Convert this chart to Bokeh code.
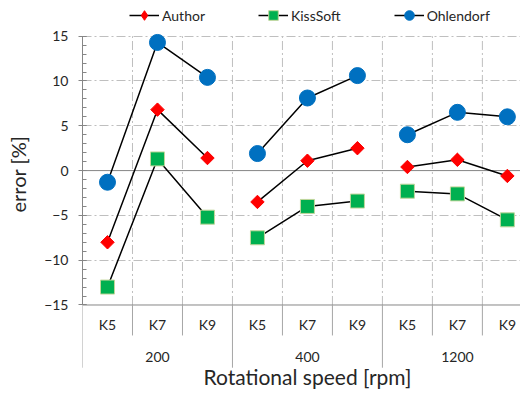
import math
from bokeh.plotting import figure
from bokeh.models import Range1d, FixedTicker, Span, Title, Legend, LegendItem
from bokeh.core.properties import value
from bokeh.embed import file_html
from bokeh.resources import INLINE

# ---- data ----
speeds = ["200", "400", "1200"]
k_labels = ["K5", "K7", "K9"]
author = [-8.0, 6.8, 1.4, -3.5, 1.1, 2.5, 0.4, 1.2, -0.6]
kisssoft = [-13.0, 1.3, -5.2, -7.5, -4.0, -3.4, -2.3, -2.6, -5.5]
ohlendorf = [-1.3, 14.3, 10.4, 1.9, 8.1, 10.6, 4.0, 6.5, 6.0]
y_ticks = [-15, -10, -5, 0, 5, 10, 15]
x_title = "Rotational speed [rpm]"
y_title = "error [%]"

FONT = "Lato"
TXT = "#262626"
AXC = "#868686"
GRIDC = "#BFBFBF"

n_k = len(k_labels)
n_g = len(speeds)
n = n_g * n_k
x_pos = list(range(n))
cat_labels = [k for s in speeds for k in k_labels]
group_centers = [g * n_k + (n_k - 1) / 2 for g in range(n_g)]
Y_MIN, Y_MAX = y_ticks[0], y_ticks[-1]

# layout constants (data units below the value axis, used for the category table)
K_ROW = -17.2
G_ROW = -20.78
T_ROW = -22.95
SHORT_SEP = -18.4
LONG_SEP = -22.0

p = figure(width=520, height=389, output_backend="svg", toolbar_location=None,
           x_range=Range1d(-0.5, -0.5 + 439 / 50.1), y_range=Range1d(-24.43, 18.98),
           x_axis_type=None, min_border_left=81, min_border_right=0,
           min_border_top=0, min_border_bottom=0)
p.outline_line_color = None
p.background_fill_color = "white"

# horizontal grid
p.ygrid.ticker = FixedTicker(ticks=[t for t in y_ticks if t not in (0, Y_MIN)])
p.ygrid.grid_line_color = GRIDC
p.ygrid.grid_line_dash = "9 3 2 3"
p.ygrid.grid_line_width = 1

p.add_layout(Span(location=0, dimension="width", line_color=AXC, line_width=1, level="underlay"))
p.add_layout(Span(location=Y_MIN, dimension="width", line_color=AXC, line_width=1, level="underlay"))

# vertical grid at category boundaries
bounds = [i + 0.5 for i in range(n)]
p.segment(x0=bounds, y0=[Y_MIN] * n, x1=bounds, y1=[Y_MAX] * n,
          line_color=GRIDC, line_dash="9 3 2 3", line_width=1, level="underlay")

# category table separators
group_b = [-0.5] + [g * n_k - 0.5 for g in range(1, n_g)]
short_b = [b for b in bounds if (b + 0.5) % n_k != 0]
p.segment(x0=short_b, y0=[Y_MIN] * len(short_b), x1=short_b, y1=[SHORT_SEP] * len(short_b),
          line_color="#A6A6A6", line_width=1)
p.segment(x0=group_b, y0=[Y_MIN] * len(group_b), x1=group_b, y1=[LONG_SEP] * len(group_b),
          line_color="#A6A6A6", line_width=1)

# y axis
ax = p.yaxis[0]
ax.ticker = FixedTicker(ticks=y_ticks, minor_ticks=list(range(Y_MIN, Y_MAX + 1)))
ax.bounds = (Y_MIN, Y_MAX)
ax.axis_line_color = AXC
ax.major_tick_line_color = AXC
ax.minor_tick_line_color = AXC
ax.major_tick_in = 4
ax.major_tick_out = 4
ax.minor_tick_in = 4
ax.minor_tick_out = 0
ax.major_label_text_font = FONT
ax.major_label_text_font_size = "14px"
ax.major_label_text_color = TXT
ax.major_label_standoff = 10
ax.axis_label = " "
ax.axis_label_text_font_size = "3px"
ax.axis_label_standoff = 0

# y title
p.add_layout(Title(text=y_title, align="left", offset=177, vertical_align="middle",
                   text_font=FONT, text_font_size="20px", text_font_style="normal",
                   text_color=TXT, standoff=8), "left")

# series
def groups(vals):
    return ([x_pos[g * n_k:(g + 1) * n_k] for g in range(n_g)],
            [vals[g * n_k:(g + 1) * n_k] for g in range(n_g)])

xs, ys = groups(ohlendorf)
l_o = p.multi_line(xs=xs, ys=ys, line_color="black", line_width=1.5)
xs, ys = groups(author)
l_a = p.multi_line(xs=xs, ys=ys, line_color="black", line_width=1.5)
xs, ys = groups(kisssoft)
l_k = p.multi_line(xs=xs, ys=ys, line_color="black", line_width=1.5)

s_o = p.scatter(x_pos, ohlendorf, marker="circle", size=16,
                fill_color="#0070C0", line_color="#0070C0")
# narrow diamond (used by the legend) hidden beneath the equal-sided diamond
s_a_leg = p.scatter(x_pos, author, marker="diamond", size=12,
                    fill_color="#FF0000", line_color="#FF0000")
s_a = p.scatter(x_pos, author, marker="square", angle=math.pi / 4, size=9.5,
                fill_color="#FF0000", line_color="#FF0000")
s_k = p.scatter(x_pos, kisssoft, marker="square", size=14,
                fill_color="#00B050", line_color="#C3D69B", line_width=1)

# category table labels
p.text(x=x_pos, y=[K_ROW] * n, text=cat_labels, text_align="center",
       text_baseline="alphabetic", text_font=value(FONT), text_font_size="14px",
       text_color=TXT)
p.text(x=group_centers, y=[G_ROW] * n_g, text=speeds, text_align="center",
       text_baseline="alphabetic", text_font=value(FONT), text_font_size="14px",
       text_color=TXT)
p.text(x=[(n - 1) / 2], y=[T_ROW], text=[x_title], text_align="center",
       text_baseline="alphabetic", text_font=value(FONT), text_font_size="21px",
       text_color=TXT)

legend = Legend(items=[LegendItem(label="Author", renderers=[l_a, s_a_leg]),
                       LegendItem(label="KissSoft", renderers=[l_k, s_k]),
                       LegendItem(label="Ohlendorf", renderers=[l_o, s_o])],
                orientation="horizontal", location=(47, 362),
                glyph_width=30, glyph_height=24, label_height=24,
                label_standoff=3, spacing=53, padding=0, margin=0,
                border_line_color=None, background_fill_alpha=0,
                label_text_font=FONT, label_text_font_size="14px",
                label_text_color=TXT)
p.add_layout(legend)

open("out.html", "w").write(file_html(p, INLINE))
